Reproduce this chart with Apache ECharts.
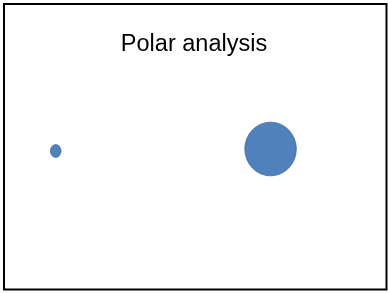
<!DOCTYPE html>
<html>
<head>
<meta charset="utf-8">
<script src="https://cdn.jsdelivr.net/npm/echarts@6/dist/echarts.min.js"></script>
<style>
  html, body { margin: 0; padding: 0; background: #fff; }
  #chart { width: 388px; height: 293px; }
</style>
</head>
<body>
<div id="chart"></div>
<script>
// Data
const titleText = "Polar analysis";
const xValues = [1, 5];
const yValues = [-0.1, 0.1];
const bubbleValues = [1, 20.5];

const chart = echarts.init(document.getElementById('chart'), null, { renderer: 'canvas' });

const points = xValues.map((x, i) => [x, yValues[i], bubbleValues[i]]);

chart.setOption({
  animation: false,
  backgroundColor: '#ffffff',
  title: {
    text: titleText,
    left: 'center',
    top: 33,
    padding: 0,
    textStyle: {
      fontFamily: 'Liberation Sans, Arial, sans-serif',
      fontSize: 23.5,
      fontWeight: 'normal',
      color: '#000000'
    }
  },
  grid: { left: 2, width: 376, top: 50, height: 200 },
  xAxis: { type: 'value', min: 0, max: 7, show: false },
  yAxis: { type: 'value', min: -10, max: 10, show: false },
  graphic: [{
    type: 'rect',
    shape: { x: 4, y: 4, width: 382.5, height: 285.5 },
    style: { fill: 'none', stroke: '#000000', lineWidth: 2 },
    silent: true
  }],
  series: [{
    type: 'scatter',
    data: points,
    symbol: 'circle',
    symbolSize: function (v) {
      const d = Math.sqrt(v[2]) * 11.6;
      return [d - 1, d + 1.2];
    },
    itemStyle: {
      color: '#4F81BD',
      borderColor: '#3E6A9E',
      borderWidth: 0.8,
      opacity: 1
    }
  }]
});
</script>
</body>
</html>
